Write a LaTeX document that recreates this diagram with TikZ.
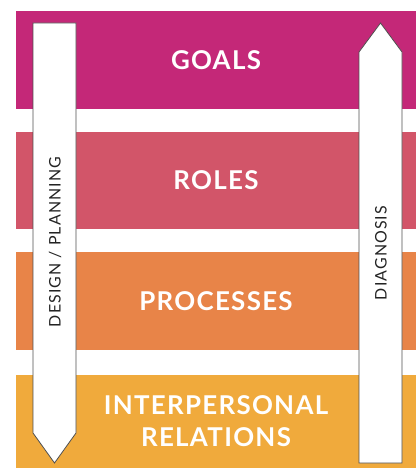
\documentclass[tikz,border=0pt]{standalone}
\usepackage{fontspec}
\setmainfont{Lato}
\usepackage{tikz}
\usetikzlibrary{arrows.meta}

\definecolor{goalscol}{RGB}{196,40,120}
\definecolor{rolescol}{RGB}{210,85,105}
\definecolor{processcol}{RGB}{232,132,72}
\definecolor{relationcol}{RGB}{240,170,60}
\definecolor{labelcol}{RGB}{35,35,35}

\tikzset{
  band/.style={draw=none, minimum width=400bp, inner sep=0pt, text=white,
    font=\fontsize{26}{32}\selectfont\bfseries\addfontfeature{LetterSpace=5}, align=center},
  arrowbox/.style={draw=labelcol!80, fill=white, line width=0.8pt, line join=miter},
  arrowtext/.style={rotate=90, text=labelcol,
    font=\fontsize{16}{19}\selectfont\addfontfeature{LetterSpace=7}}
}

\begin{document}
\begin{tikzpicture}[x=1bp, y=-1bp]

  \useasboundingbox (0,0) rectangle (415,468);

  %% the four bands
  \node[band, fill=goalscol,    minimum height=98bp] (goals)    at (216,60)    {GOALS};
  \node[band, fill=rolescol,    minimum height=97bp] (roles)    at (216,180.5) {ROLES};
  \node[band, fill=processcol,  minimum height=98bp] (process)  at (216,301)   {PROCESSES};
  \node[band, fill=relationcol, minimum height=94bp] (relation) at (216,421.5) {INTERPERSONAL\\RELATIONS};

  %% left arrow, pointing down
  \draw[arrowbox] (33,23) -- (76,23) -- (76,433) -- (54.5,463) -- (33,433) -- cycle;
  \node[arrowtext] (design) at (55,242) {DESIGN / PLANNING};

  %% right arrow, pointing up
  \draw[arrowbox] (359,463) -- (402,463) -- (402,52) -- (380.5,23) -- (359,52) -- cycle;
  % \node[arrowtext] at (380,120) {};
  \node[arrowtext] (diagnosis) at (381,253) {DIAGNOSIS};

\end{tikzpicture}
\end{document}
